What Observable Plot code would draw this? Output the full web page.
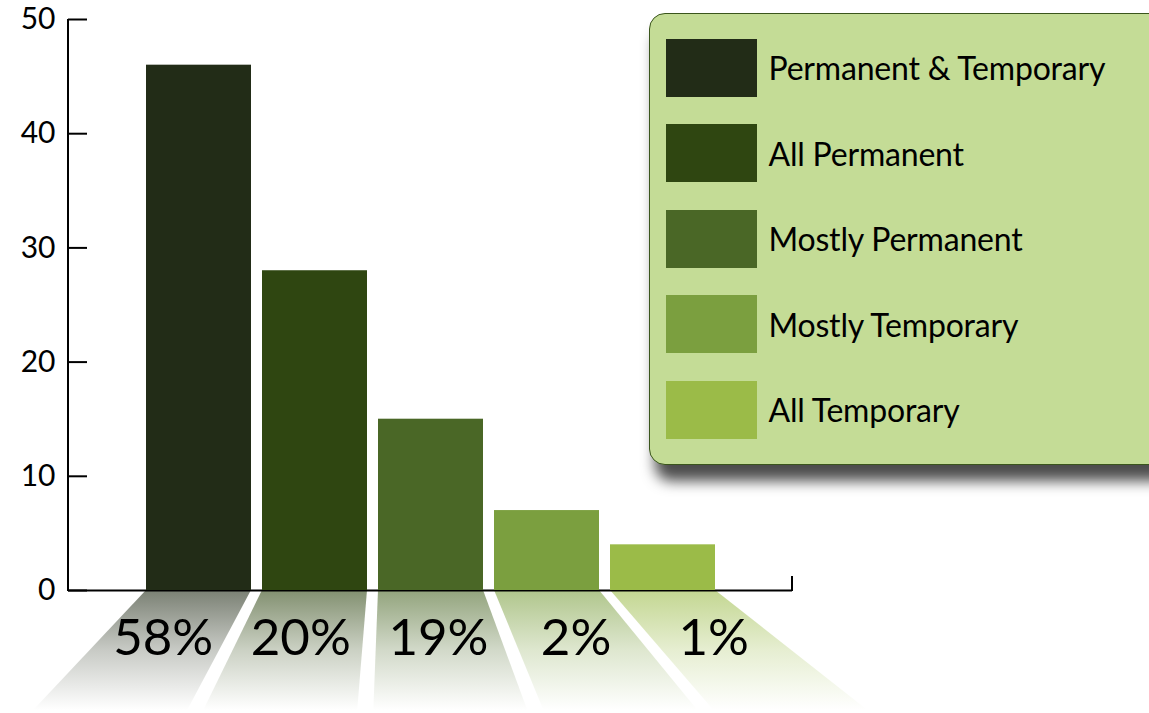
<!DOCTYPE html>
<html><head><meta charset="utf-8">
<script src="https://cdn.jsdelivr.net/npm/d3@7"></script>
<script src="https://cdn.jsdelivr.net/npm/@observablehq/plot@0.6"></script>
<style>
body{margin:0;background:#fff;overflow:hidden;font-family:Lato,sans-serif}
#wrap{position:relative;width:1149px;height:713px;overflow:hidden}
#legend{position:absolute;left:649px;top:13px;width:520px;height:452px;background:#c4dc96;border:1.5px solid #3a551c;border-radius:16px;box-shadow:6px 16px 14px rgba(0,0,0,0.7);box-sizing:border-box}
.row{position:absolute;left:15.5px;display:flex;align-items:center;height:58px}
.sw{width:91px;height:58px;margin-right:12px}
.lab{font-size:32px;color:#000;white-space:nowrap;font-family:Lato,sans-serif;letter-spacing:-0.2px}
</style></head><body><div id="wrap"></div>
<script>
const categories = ["Permanent & Temporary","All Permanent","Mostly Permanent","Mostly Temporary","All Temporary"];
const values = [46, 28, 15, 7, 4];
const shares = ["58%","20%","19%","2%","1%"];
const colors = ["#222c17","#2f4611","#4a6726","#7b9f3f","#9bbb48"];
const yTicks = [0, 10, 20, 30, 40, 50];

const data = categories.map((c, i) => ({category: c, value: values[i], share: shares[i], color: colors[i]}));

// perspective "floor" under each bar, with share labels
function perspective(index, scales, vals, dimensions) {
  const x = scales.x, y = scales.y, bw = x.bandwidth();
  const y0 = y(0), y1 = y0 + 120;
  const k = 1.466, vx = 388;
  const spread = v => vx + (v - vx) * k;
  const g = d3.create("svg:g");
  const defs = g.append("defs");
  data.forEach((d, i) => {
    const id = "fade" + i;
    const lg = defs.append("linearGradient").attr("id", id).attr("x1", 0).attr("y1", 0).attr("x2", 0).attr("y2", 1);
    lg.append("stop").attr("offset", 0).attr("stop-color", d.color).attr("stop-opacity", 0.6);
    lg.append("stop").attr("offset", 0.5).attr("stop-color", d.color).attr("stop-opacity", 0.25);
    lg.append("stop").attr("offset", 1).attr("stop-color", d.color).attr("stop-opacity", 0);
    const a = x(d.category), b = a + bw;
    g.append("path")
      .attr("d", `M${a},${y0}L${b},${y0}L${spread(b)},${y1}L${spread(a)},${y1}Z`)
      .attr("fill", `url(#${id})`);
  });
  data.forEach(d => {
    const a = x(d.category), cx = a + bw / 2, t = 0.4;
    g.append("text")
      .attr("x", cx + t * (spread(cx) - cx))
      .attr("y", y0 + 65)
      .attr("text-anchor", "middle")
      .attr("font-size", 51)
      .attr("fill", "#000")
      .text(d.share);
  });
  return g.node();
}

// axis frame lines: left axis line and right end tick of the baseline
function frameLines(index, scales, vals, dimensions) {
  const xl = dimensions.marginLeft, xr = dimensions.width - dimensions.marginRight;
  const y0 = scales.y(0), yTop = scales.y(yTicks[yTicks.length - 1]);
  return d3.create("svg:path")
    .attr("d", `M${xl},${yTop}V${y0 + 1}M${xr},${y0 + 1}V${y0 - 14}`)
    .attr("stroke", "#000").attr("stroke-width", 2).attr("fill", "none").node();
}

const chart = Plot.plot({
  width: 1149, height: 713,
  marginLeft: 68, marginRight: 357, marginTop: 19, marginBottom: 123,
  style: {fontFamily: "Lato, sans-serif", fontSize: "30px", background: "transparent", color: "#000", overflow: "visible"},
  x: {type: "band", domain: categories, paddingInner: 0.095, paddingOuter: 0.668, axis: null},
  y: {domain: [0, 50], label: null},
  color: {domain: categories, range: colors},
  marks: [
    perspective,
    Plot.axisY({ticks: yTicks, tickSize: -19, tickPadding: 32, label: null, strokeWidth: 2, tickFormat: d => d}),
    Plot.ruleY([0], {strokeWidth: 2}),
    frameLines,
    Plot.barY(data, {x: "category", y: "value", fill: "category"})
  ]
});

const wrap = document.getElementById("wrap");
wrap.appendChild(chart);

const legend = document.createElement("div");
legend.id = "legend";
categories.forEach((c, i) => {
  const row = document.createElement("div");
  row.className = "row";
  row.style.top = (24.5 + i * 85.5) + "px";
  const sw = document.createElement("div");
  sw.className = "sw";
  sw.style.background = colors[i];
  const lab = document.createElement("span");
  lab.className = "lab";
  lab.textContent = c;
  row.appendChild(sw); row.appendChild(lab);
  legend.appendChild(row);
});
wrap.appendChild(legend);
</script></body></html>
